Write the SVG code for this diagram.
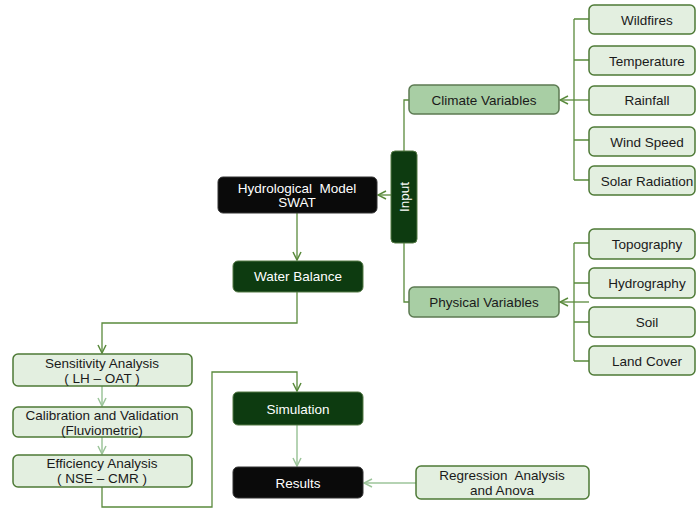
<svg xmlns="http://www.w3.org/2000/svg" width="696" height="512" viewBox="0 0 696 512">
<style>
text{font-family:"Liberation Sans",Arial,sans-serif;font-size:13.5px;text-anchor:middle;dominant-baseline:central;white-space:pre}
.lt{fill:#e3efe0;stroke:#4e7a36;stroke-width:1.5}
.md{fill:#a8cea4;stroke:#5c7a52;stroke-width:1.5}
.dk{fill:#0d3b10;stroke:#557a45;stroke-width:1}
.bk{fill:#0a0a0a;stroke:#333;stroke-width:1}
.w{fill:#ffffff}
.b{fill:#1a1a1a}
.c{fill:none;stroke:#5a8a3c;stroke-width:1.3}
.cl{fill:none;stroke:#9cc49a;stroke-width:1.5}
</style>
<defs>
<marker id="a" viewBox="0 0 10 10" refX="9" refY="5" markerWidth="10" markerHeight="10" markerUnits="userSpaceOnUse" orient="auto"><path d="M1,1 L9,5 L1,9" fill="none" stroke="#5a8a3c" stroke-width="1.5"/></marker>
<marker id="al" viewBox="0 0 10 10" refX="9" refY="5" markerWidth="10" markerHeight="10" markerUnits="userSpaceOnUse" orient="auto"><path d="M1,1 L9,5 L1,9" fill="none" stroke="#9cc49a" stroke-width="1.5"/></marker>
</defs>
<rect width="696" height="512" fill="#ffffff"/>
<g id="connectors">
<path class="c" d="M574,19 V180 M574,19 H589 M574,60 H589 M574,140 H589 M574,180 H589"/>
<path class="c" d="M589,100 H560" marker-end="url(#a)"/>
<path class="c" d="M574,243 V361 M574,243 H589 M574,283 H589 M574,322 H589 M574,361 H589"/>
<path class="c" d="M589,302 H560" marker-end="url(#a)"/>
<path class="c" d="M404,151 V100 H409 M404,243 V302 H409"/>
<path class="c" d="M391,195 H378" marker-end="url(#a)"/>
<path class="c" d="M297,213 V260" marker-end="url(#a)"/>
<path class="c" d="M297,292 V323 H102 V353" marker-end="url(#a)"/>
<path class="cl" d="M102,386 V406" marker-end="url(#al)"/>
<path class="cl" d="M102,437 V454" marker-end="url(#al)"/>
<path class="c" d="M102,487 V507 H212 V372 H297 V391" marker-end="url(#a)"/>
<path class="cl" d="M297,425 V466" marker-end="url(#al)"/>
<path class="cl" d="M416,483 H364" marker-end="url(#al)"/>
</g>
<g id="wildfires"><rect class="lt" x="589" y="5" width="106" height="29" rx="5"/><text class="b" x="647" y="20">Wildfires</text></g>
<g id="temperature"><rect class="lt" x="589" y="46" width="106" height="29" rx="5"/><text class="b" x="647" y="61">Temperature</text></g>
<g id="rainfall"><rect class="lt" x="589" y="86" width="106" height="29" rx="5"/><text class="b" x="647" y="100">Rainfall</text></g>
<g id="windspeed"><rect class="lt" x="589" y="127" width="106" height="29" rx="5"/><text class="b" x="647" y="142">Wind Speed</text></g>
<g id="solar"><rect class="lt" x="589" y="166" width="106" height="29" rx="5"/><text class="b" x="647" y="181">Solar Radiation</text></g>
<g id="climate"><rect class="md" x="409" y="85" width="150" height="29" rx="5"/><text class="b" x="484" y="100">Climate Variables</text></g>
<g id="input"><rect class="dk" x="391" y="151" width="26" height="92" rx="4"/><text class="w" transform="translate(404,197) rotate(-90)">Input</text></g>
<g id="physical"><rect class="md" x="409" y="287" width="150" height="30" rx="5"/><text class="b" x="484" y="302">Physical Variables</text></g>
<g id="topography"><rect class="lt" x="589" y="229" width="106" height="30" rx="5"/><text class="b" x="647" y="244">Topography</text></g>
<g id="hydrography"><rect class="lt" x="589" y="268" width="106" height="30" rx="5"/><text class="b" x="647" y="283">Hydrography</text></g>
<g id="soil"><rect class="lt" x="589" y="307" width="106" height="30" rx="5"/><text class="b" x="647" y="322">Soil</text></g>
<g id="landcover"><rect class="lt" x="589" y="346" width="106" height="29" rx="5"/><text class="b" x="647" y="361">Land Cover</text></g>
<g id="hydro"><rect class="bk" x="218" y="177" width="159" height="36" rx="5"/><text class="w" x="297" y="188">Hydrological  Model</text><text class="w" x="297" y="202">SWAT</text></g>
<g id="waterbalance"><rect class="dk" x="233" y="261" width="130" height="31" rx="5"/><text class="w" x="298" y="276">Water Balance</text></g>
<g id="sensitivity"><rect class="lt" x="13" y="354" width="179" height="32" rx="5"/><text class="b" x="102" y="363">Sensitivity Analysis</text><text class="b" x="102" y="378">( LH – OAT )</text></g>
<g id="calibration"><rect class="lt" x="13" y="407" width="179" height="30" rx="5"/><text class="b" x="102" y="415">Calibration and Validation</text><text class="b" x="102" y="430">(Fluviometric)</text></g>
<g id="efficiency"><rect class="lt" x="13" y="455" width="179" height="32" rx="5"/><text class="b" x="102" y="463">Efficiency Analysis</text><text class="b" x="102" y="478">( NSE – CMR )</text></g>
<g id="simulation"><rect class="dk" x="233" y="392" width="130" height="33" rx="5"/><text class="w" x="298" y="409">Simulation</text></g>
<g id="results"><rect class="bk" x="233" y="467" width="130" height="31" rx="5"/><text class="w" x="298" y="483">Results</text></g>
<g id="regression"><rect class="lt" x="416" y="466" width="173" height="33" rx="5"/><text class="b" x="502" y="475">Regression  Analysis</text><text class="b" x="502" y="490">and Anova</text></g>
</svg>
